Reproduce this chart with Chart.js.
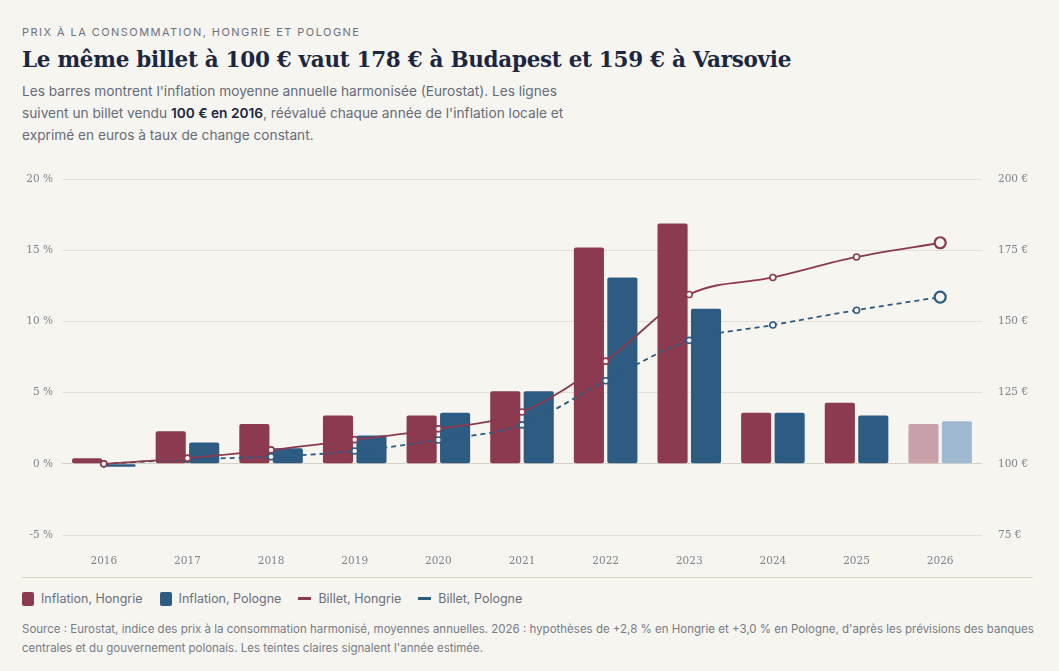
<!DOCTYPE html>
<html lang="fr">
<head>
<meta charset="utf-8">
<script src="https://cdn.jsdelivr.net/npm/chart.js@4.4.1/dist/chart.umd.min.js"></script>
<style>
  html, body { margin: 0; padding: 0; background: #f6f5f0; }
  body { width: 1059px; height: 671px; position: relative; overflow: hidden; font-family: Inter, "Noto Sans", sans-serif; }
  .kicker { position: absolute; left: 22px; top: 25px; font-size: 11px; letter-spacing: 1.45px; color: #6e7280; }
  h1 { position: absolute; left: 22px; top: 47px; margin: 0; font-family: "DejaVu Serif", Georgia, serif; font-weight: bold; font-size: 21.5px; color: #1b2741; letter-spacing: -0.3px; }
  .sub { position: absolute; left: 22px; top: 80px; width: 560px; font-size: 13.7px; line-height: 22px; color: #666c78; }
  .sub b { color: #1b2741; font-weight: 600; }
  #wrap { position: absolute; left: 0; top: 157px; width: 1059px; height: 408px; }
  .rule { position: absolute; left: 22px; top: 577px; width: 1011px; height: 1px; background: #d8d3c3; }
  .legend { position: absolute; left: 22px; top: 591px; display: flex; gap: 17px; font-size: 12.5px; color: #6a6f7c; }
  .legend span { display: flex; align-items: center; }
  .sw { width: 12px; height: 14px; border-radius: 2px; margin-right: 7px; display: inline-block; }
  .ln { width: 13px; height: 2.5px; margin-right: 7px; display: inline-block; }
  .src { position: absolute; left: 22px; top: 620px; width: 1015px; font-size: 11.5px; line-height: 19px; color: #777b86; }
</style>
</head>
<body>
<div class="kicker">PRIX À LA CONSOMMATION, HONGRIE ET POLOGNE</div>
<h1>Le même billet à 100 € vaut 178 € à Budapest et 159 € à Varsovie</h1>
<div class="sub">Les barres montrent l'inflation moyenne annuelle harmonisée (Eurostat). Les lignes suivent un billet vendu <b>100 € en 2016</b>, réévalué chaque année de l'inflation locale et exprimé en euros à taux de change constant.</div>
<div id="wrap"><canvas id="chart"></canvas></div>
<div class="rule"></div>
<div class="legend">
  <span><i class="sw" style="background:#8b3a50"></i>Inflation, Hongrie</span>
  <span><i class="sw" style="background:#2e5b82"></i>Inflation, Pologne</span>
  <span><i class="ln" style="background:#8b3a50"></i>Billet, Hongrie</span>
  <span><i class="ln" style="background:#2e5b82"></i>Billet, Pologne</span>
</div>
<div class="src">Source : Eurostat, indice des prix à la consommation harmonisé, moyennes annuelles. 2026 : hypothèses de +2,8 % en Hongrie et +3,0 % en Pologne, d'après les prévisions des banques centrales et du gouvernement polonais. Les teintes claires signalent l'année estimée.</div>

<script>
// data
const years = ['2016', '2017', '2018', '2019', '2020', '2021', '2022', '2023', '2024', '2025', '2026'];
const inflationHu = [0.4, 2.3, 2.8, 3.4, 3.4, 5.1, 15.2, 16.9, 3.6, 4.3, 2.8];
const inflationPl = [-0.2, 1.5, 1.1, 2.0, 3.6, 5.1, 13.1, 10.9, 3.6, 3.4, 3.0];
const billetHu = [100, 102.0, 104.9, 108.5, 112.3, 118.2, 136.1, 159.5, 165.5, 172.7, 177.7];
const billetPl = [100, 101.6, 102.5, 104.5, 108.4, 113.7, 129.2, 143.4, 148.8, 154.0, 158.6];
const pctTicks = [-5, 0, 5, 10, 15, 20];
const euroTicks = [75, 100, 125, 150, 175, 200];

const HU = '#8b3a50', PL = '#2e5b82';
const HU_LIGHT = '#c9a1ab', PL_LIGHT = '#9fbad0';
const BG = '#f6f5f0';
const lastIdx = years.length - 1;

const barColors = (base, light) => years.map((_, i) => (i === lastIdx ? light : base));
const pointSize = (small, big) => years.map((_, i) => (i === lastIdx ? big : small));

const tickFont = { family: '"DejaVu Serif", Georgia, serif', size: 10.5 };

new Chart(document.getElementById('chart'), {
  data: {
    labels: years,
    datasets: [
      {
        type: 'line', label: 'Billet, Hongrie', data: billetHu, yAxisID: 'yEuro', order: 0,
        borderColor: HU, borderWidth: 1.8, cubicInterpolationMode: 'monotone',
        pointBackgroundColor: BG, pointBorderColor: HU,
        pointRadius: pointSize(3, 5.5), pointBorderWidth: pointSize(1.6, 2.2)
      },
      {
        type: 'line', label: 'Billet, Pologne', data: billetPl, yAxisID: 'yEuro', order: 0,
        borderColor: PL, borderWidth: 1.8, borderDash: [5, 4], cubicInterpolationMode: 'monotone',
        pointBackgroundColor: BG, pointBorderColor: PL,
        pointRadius: pointSize(3, 5.5), pointBorderWidth: pointSize(1.6, 2.2)
      },
      {
        type: 'bar', label: 'Inflation, Hongrie', data: inflationHu, yAxisID: 'yPct', order: 1,
        backgroundColor: barColors(HU, HU_LIGHT), borderRadius: 2, borderSkipped: false,
        categoryPercentage: 0.8, barPercentage: 0.9
      },
      {
        type: 'bar', label: 'Inflation, Pologne', data: inflationPl, yAxisID: 'yPct', order: 1,
        backgroundColor: barColors(PL, PL_LIGHT), borderRadius: 2, borderSkipped: false,
        categoryPercentage: 0.8, barPercentage: 0.9
      }
    ]
  },
  options: {
    responsive: true,
    maintainAspectRatio: false,
    animation: false,
    layout: { padding: { top: 10, bottom: 0, left: 0, right: 0 } },
    plugins: { legend: { display: false }, tooltip: { enabled: false } },
    scales: {
      x: {
        grid: { display: false },
        border: { display: false },
        ticks: { color: '#80838d', font: tickFont, padding: 12 },
        afterFit: (s) => { s.height = 30; }
      },
      yPct: {
        position: 'left', min: -5, max: 20,
        afterBuildTicks: (s) => { s.ticks = pctTicks.map((v) => ({ value: v })); },
        grid: { color: (c) => (c.tick && c.tick.value === 0 ? '#d6d1c4' : '#e3dfd5'), drawTicks: false, lineWidth: 1 },
        border: { display: false },
        ticks: { color: '#80838d', font: tickFont, padding: 9, callback: (v) => v + ' %' },
        afterFit: (s) => { s.width = 62; }
      },
      yEuro: {
        position: 'right', min: 75, max: 200,
        afterBuildTicks: (s) => { s.ticks = euroTicks.map((v) => ({ value: v })); },
        grid: { drawOnChartArea: false, drawTicks: false },
        border: { display: false },
        ticks: { color: '#80838d', font: tickFont, padding: 16, callback: (v) => v + ' €' },
        afterFit: (s) => { s.width = 77; }
      }
    }
  }
});
</script>
</body>
</html>
